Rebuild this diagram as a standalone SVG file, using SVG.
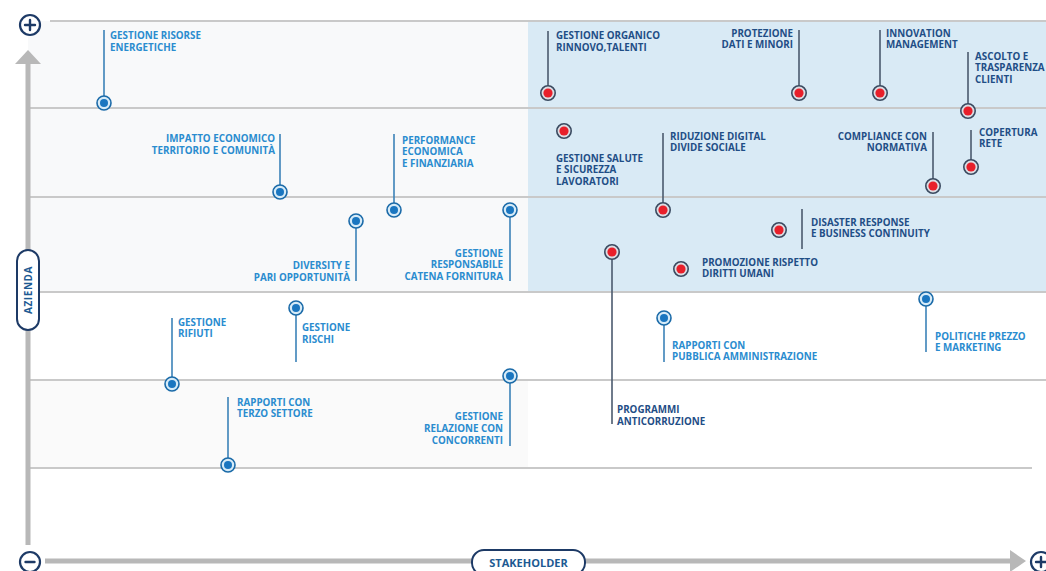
<svg xmlns="http://www.w3.org/2000/svg" width="1046" height="571" viewBox="0 0 1046 571">
<defs>
<style>
.grid{stroke:#c9c9c9;stroke-width:2;fill:none}
.axis{stroke:#b8b8b8;stroke-width:5;fill:none}
.lb{font-family:"Open Sans","Liberation Sans",sans-serif;font-weight:700;font-size:9.8px;fill:#2a8ccf}
.lr{font-family:"Open Sans","Liberation Sans",sans-serif;font-weight:700;font-size:9.8px;fill:#1f4e86}
.end{text-anchor:end}
.leadb{stroke:#3b82b8;stroke-width:1.6;fill:none}
.leadr{stroke:#4b5a6e;stroke-width:1.6;fill:none}
.ob{fill:#d6ebf8;stroke:#1a6aa8;stroke-width:1.6}
.ib{fill:#1a76c0}
.or{fill:#dcdde3;stroke:#3a4a60;stroke-width:1.6}
.ir{fill:#e81f2a}
.sym{fill:#fff;stroke:#1d3a66;stroke-width:2.2}
.symline{stroke:#1d3a66;stroke-width:2.4;stroke-linecap:round}
.pill{fill:#fff;stroke:#1d3a66;stroke-width:2}
.pt{font-family:"Open Sans","Liberation Sans",sans-serif;font-weight:700;fill:#1d5a92;text-anchor:middle}
</style>
<symbol id="bd" overflow="visible"><circle class="ob" r="7"/><circle class="ib" r="4"/></symbol>
<symbol id="rd" overflow="visible"><circle class="or" r="7.2"/><circle class="ir" r="4.6"/></symbol>
</defs>
<rect width="1046" height="571" fill="#fff"/>
<g id="background">
<rect x="28" y="21" width="500" height="271" fill="#f8f9fa"/>
<rect x="28" y="380" width="500" height="88" fill="#fafafa"/>
<rect x="528" y="21" width="518" height="271" fill="#d9eaf5"/>
<line class="grid" x1="50" y1="21" x2="1046" y2="21"/>
<line class="grid" x1="28" y1="108" x2="1046" y2="108"/>
<line class="grid" x1="28" y1="197" x2="1046" y2="197"/>
<line class="grid" x1="28" y1="292" x2="1046" y2="292"/>
<line class="grid" x1="28" y1="380" x2="1046" y2="380"/>
<line class="grid" x1="28" y1="468" x2="1032" y2="468"/>
</g>
<g id="axes">
<line class="axis" x1="28" y1="60" x2="28" y2="545"/>
<polygon points="28,50 41,64 15,64" fill="#b8b8b8"/>
<line class="axis" x1="45" y1="561" x2="1012" y2="561"/>
<polygon points="1026,561 1010,550 1010,572" fill="#b8b8b8"/>
<g id="plus-top"><circle class="sym" cx="30" cy="25" r="10"/><line class="symline" x1="25" y1="25" x2="35" y2="25"/><line class="symline" x1="30" y1="20" x2="30" y2="30"/></g>
<g id="minus-bottom"><circle class="sym" cx="30" cy="562" r="10"/><line class="symline" x1="25.5" y1="562" x2="34.5" y2="562"/></g>
<g id="plus-right"><circle class="sym" cx="1041" cy="562" r="10"/><line class="symline" x1="1036" y1="562" x2="1046" y2="562"/><line class="symline" x1="1041" y1="557" x2="1041" y2="567"/></g>
<g id="azienda"><rect class="pill" x="17" y="250" width="22" height="80" rx="11"/><text class="pt" font-size="10" letter-spacing="0.6" transform="translate(31.6,290) rotate(-90)">AZIENDA</text></g>
<g id="stakeholder"><rect class="pill" x="472" y="550" width="113" height="25" rx="12"/><text class="pt" x="528.5" y="566.5" font-size="11">STAKEHOLDER</text></g>
</g>
<g id="connectors">
<line class="leadb" x1="104" y1="30" x2="104" y2="97"/>
<line class="leadb" x1="280" y1="134" x2="280" y2="186"/>
<line class="leadb" x1="394" y1="134" x2="394" y2="203"/>
<line class="leadb" x1="510" y1="217" x2="510" y2="281"/>
<line class="leadb" x1="356" y1="228" x2="356" y2="281"/>
<line class="leadb" x1="296" y1="315" x2="296" y2="362"/>
<line class="leadb" x1="172" y1="318" x2="172" y2="377"/>
<line class="leadb" x1="228" y1="397" x2="228" y2="458"/>
<line class="leadb" x1="510" y1="383" x2="510" y2="446"/>
<line class="leadb" x1="664" y1="325" x2="664" y2="362"/>
<line class="leadb" x1="926" y1="306" x2="926" y2="352"/>
<line class="leadr" x1="548" y1="31" x2="548" y2="86"/>
<line class="leadr" x1="663" y1="133" x2="663" y2="203"/>
<line class="leadr" x1="799" y1="30" x2="799" y2="86"/>
<line class="leadr" x1="880" y1="30" x2="880" y2="86"/>
<line class="leadr" x1="968" y1="52" x2="968" y2="104"/>
<line class="leadr" x1="933" y1="132" x2="933" y2="179"/>
<line class="leadr" x1="971" y1="130" x2="971" y2="160"/>
<line class="leadr" x1="802" y1="209" x2="802" y2="249"/>
<line class="leadr" x1="612" y1="259" x2="612" y2="424"/>
</g>
<g id="n-risorse"><use href="#bd" x="104" y="103"/><text class="lb" x="110" y="38.5">GESTIONE RISORSE</text><text class="lb" x="110" y="50.5">ENERGETICHE</text></g>
<g id="n-impatto"><use href="#bd" x="280" y="192"/><text class="lb end" x="275" y="141.5">IMPATTO ECONOMICO</text><text class="lb end" x="275" y="153.5">TERRITORIO E COMUNITÀ</text></g>
<g id="n-performance"><use href="#bd" x="394" y="210"/><text class="lb" x="402" y="143.5">PERFORMANCE</text><text class="lb" x="402" y="155">ECONOMICA</text><text class="lb" x="402" y="166.5">E FINANZIARIA</text></g>
<g id="n-catena"><use href="#bd" x="510" y="210"/><text class="lb end" x="503" y="256.5">GESTIONE</text><text class="lb end" x="503" y="268">RESPONSABILE</text><text class="lb end" x="503" y="280">CATENA FORNITURA</text></g>
<g id="n-diversity"><use href="#bd" x="356" y="221"/><text class="lb end" x="350" y="268.5">DIVERSITY E</text><text class="lb end" x="350" y="280.5">PARI OPPORTUNITÀ</text></g>
<g id="n-rischi"><use href="#bd" x="296" y="308"/><text class="lb" x="302" y="331">GESTIONE</text><text class="lb" x="302" y="342.5">RISCHI</text></g>
<g id="n-rifiuti"><use href="#bd" x="172" y="384"/><text class="lb" x="178" y="325.5">GESTIONE</text><text class="lb" x="178" y="337">RIFIUTI</text></g>
<g id="n-terzo"><use href="#bd" x="228" y="465"/><text class="lb" x="237" y="406">RAPPORTI CON</text><text class="lb" x="237" y="417">TERZO SETTORE</text></g>
<g id="n-concorrenti"><use href="#bd" x="510" y="376"/><text class="lb end" x="503" y="419.5">GESTIONE</text><text class="lb end" x="503" y="431.5">RELAZIONE CON</text><text class="lb end" x="503" y="443.5">CONCORRENTI</text></g>
<g id="n-pa"><use href="#bd" x="664" y="318"/><text class="lb" x="672" y="348.5">RAPPORTI CON</text><text class="lb" x="672" y="359.5">PUBBLICA AMMINISTRAZIONE</text></g>
<g id="n-prezzo"><use href="#bd" x="926" y="299"/><text class="lb" x="935" y="339.5">POLITICHE PREZZO</text><text class="lb" x="935" y="350.5">E MARKETING</text></g>
<g id="n-organico"><use href="#rd" x="548" y="93"/><text class="lr" x="556" y="38.5">GESTIONE ORGANICO</text><text class="lr" x="556" y="50.5">RINNOVO,TALENTI</text></g>
<g id="n-salute"><use href="#rd" x="564" y="131"/><text class="lr" x="556" y="161.5">GESTIONE SALUTE</text><text class="lr" x="556" y="172.5">E SICUREZZA</text><text class="lr" x="556" y="184.5">LAVORATORI</text></g>
<g id="n-digital"><use href="#rd" x="663" y="210"/><text class="lr" x="670" y="139.5">RIDUZIONE DIGITAL</text><text class="lr" x="670" y="150.5">DIVIDE SOCIALE</text></g>
<g id="n-dati"><use href="#rd" x="799" y="93"/><text class="lr end" x="793" y="36.5">PROTEZIONE</text><text class="lr end" x="793" y="47.5">DATI E MINORI</text></g>
<g id="n-innovation"><use href="#rd" x="880" y="93"/><text class="lr" x="886" y="36.5">INNOVATION</text><text class="lr" x="886" y="47.5">MANAGEMENT</text></g>
<g id="n-ascolto"><use href="#rd" x="968" y="111"/><text class="lr" x="975" y="59.5">ASCOLTO E</text><text class="lr" x="975" y="71">TRASPARENZA</text><text class="lr" x="975" y="82.5">CLIENTI</text></g>
<g id="n-compliance"><use href="#rd" x="933" y="186"/><text class="lr end" x="927" y="139.5">COMPLIANCE CON</text><text class="lr end" x="927" y="150.5">NORMATIVA</text></g>
<g id="n-copertura"><use href="#rd" x="971" y="167"/><text class="lr" x="979" y="135.5">COPERTURA</text><text class="lr" x="979" y="147">RETE</text></g>
<g id="n-disaster"><use href="#rd" x="779" y="230"/><text class="lr" x="811" y="225.5">DISASTER RESPONSE</text><text class="lr" x="811" y="237">E BUSINESS CONTINUITY</text></g>
<g id="n-umani"><use href="#rd" x="681" y="269"/><text class="lr" x="702" y="265.5">PROMOZIONE RISPETTO</text><text class="lr" x="702" y="277">DIRITTI UMANI</text></g>
<g id="n-anticorruzione"><use href="#rd" x="612" y="252"/><text class="lr" x="617" y="413">PROGRAMMI</text><text class="lr" x="617" y="424.5">ANTICORRUZIONE</text></g>
</svg>
